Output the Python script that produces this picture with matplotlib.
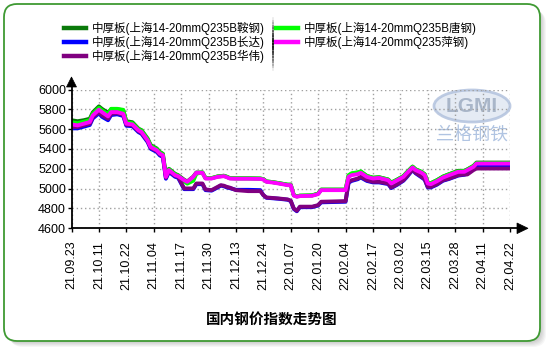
import numpy as np
import matplotlib
matplotlib.use("Agg")
import matplotlib.pyplot as plt
from matplotlib.patches import FancyBboxPatch, Ellipse, Polygon
from matplotlib.lines import Line2D
import matplotlib.transforms as mtrans

# ---------------- data ----------------
days = [0, 2, 4, 6, 7, 9, 10, 12, 13, 15,
        17, 18, 20, 22, 23, 25, 26, 28, 29, 30,
        31, 32, 34, 35, 37, 38, 40, 41, 43, 44,
        46, 48, 49, 50, 51, 52, 54, 58, 62, 63,
        64, 66, 68, 71, 72, 73, 74, 75, 79, 81,
        82, 90, 91, 92, 94, 95, 97, 99, 101, 104,
        105, 107, 109, 110, 112, 113, 115, 116, 117, 118,
        120, 122, 124, 127, 129, 130, 132, 133, 144]

angang = [5690, 5680, 5690, 5705, 5770, 5830, 5805, 5765, 5800, 5800,
          5790, 5680, 5670, 5605, 5590, 5505, 5440, 5405, 5370, 5352,
          5135, 5200, 5150, 5136, 5090, 5072, 5122, 5163, 5163, 5106,
          5106, 5123, 5126, 5130, 5120, 5106, 5104, 5104, 5102, 5096,
          5073, 5066, 5056, 5040, 5040, 4934, 4922, 4929, 4932, 4950,
          4990, 4990, 5130, 5150, 5160, 5170, 5128, 5110, 5115, 5092,
          5060, 5092, 5126, 5160, 5222, 5195, 5168, 5145, 5062, 5055,
          5085, 5122, 5146, 5180, 5180, 5195, 5230, 5263, 5263]

tanggang = [5670, 5660, 5675, 5690, 5755, 5815, 5790, 5750, 5805, 5805,
            5795, 5670, 5660, 5600, 5585, 5500, 5432, 5398, 5365, 5348,
            5130, 5196, 5146, 5132, 5075, 5050, 5080, 5150, 5165, 5106,
            5106, 5123, 5126, 5130, 5120, 5106, 5104, 5104, 5102, 5096,
            5073, 5066, 5056, 5040, 5040, 4934, 4922, 4929, 4932, 4950,
            4990, 4990, 5135, 5155, 5165, 5175, 5128, 5110, 5115, 5092,
            5060, 5092, 5126, 5160, 5222, 5195, 5168, 5145, 5062, 5055,
            5085, 5120, 5145, 5175, 5178, 5193, 5228, 5258, 5258]

changda = [5608, 5608, 5625, 5642, 5708, 5760, 5725, 5690, 5742, 5750,
           5733, 5635, 5630, 5570, 5553, 5470, 5402, 5370, 5335, 5320,
           5100, 5168, 5120, 5110, 4995, 4995, 4995, 5045, 5045, 4985,
           4980, 5012, 5030, 5025, 5012, 5005, 4988, 4988, 4985, 4935,
           4908, 4903, 4898, 4888, 4875, 4795, 4772, 4813, 4813, 4830,
           4862, 4868, 5060, 5078, 5095, 5112, 5078, 5063, 5063, 5046,
           5006, 5040, 5080, 5113, 5188, 5155, 5113, 5090, 5012, 5012,
           5040, 5080, 5098, 5132, 5140, 5150, 5200, 5228, 5228]

huawei = [5622, 5622, 5638, 5655, 5722, 5772, 5739, 5705, 5755, 5762,
          5745, 5645, 5640, 5580, 5563, 5480, 5412, 5380, 5345, 5330,
          5110, 5178, 5130, 5120, 5002, 5002, 5002, 5052, 5052, 4992,
          4985, 5018, 5035, 5030, 5018, 5010, 4985, 4975, 4975, 4935,
          4911, 4906, 4901, 4891, 4878, 4800, 4777, 4818, 4818, 4834,
          4868, 4874, 5069, 5085, 5102, 5119, 5085, 5069, 5069, 5052,
          5012, 5045, 5085, 5119, 5193, 5160, 5119, 5095, 5018, 5018,
          5045, 5085, 5102, 5136, 5143, 5143, 5187, 5203, 5203]

pinggang = [5648, 5638, 5655, 5672, 5739, 5796, 5772, 5729, 5772, 5772,
            5755, 5655, 5648, 5588, 5571, 5487, 5420, 5387, 5353, 5337,
            5119, 5187, 5136, 5126, 5085, 5069, 5119, 5160, 5160, 5102,
            5102, 5119, 5122, 5126, 5115, 5102, 5100, 5100, 5098, 5092,
            5069, 5062, 5052, 5035, 5035, 4930, 4918, 4925, 4928, 4945,
            4985, 4985, 5119, 5136, 5146, 5160, 5119, 5102, 5109, 5085,
            5052, 5085, 5119, 5153, 5213, 5187, 5160, 5136, 5052, 5045,
            5075, 5112, 5136, 5170, 5170, 5187, 5220, 5253, 5253]

tick_days = list(range(0, 145, 9))
tick_labels = ["21.09.23", "21.10.11", "21.10.22", "21.11.04", "21.11.17",
               "21.11.30", "21.12.13", "21.12.24", "22.01.07", "22.01.20",
               "22.02.04", "22.02.17", "22.03.02", "22.03.15", "22.03.28",
               "22.04.11", "22.04.22"]
y_ticks = [4600, 4800, 5000, 5200, 5400, 5600, 5800, 6000]

series_names = ["中厚板(上海14-20mmQ235B鞍钢)", "中厚板(上海14-20mmQ235B唐钢)",
                "中厚板(上海14-20mmQ235B长达)", "中厚板(上海14-20mmQ235萍钢)",
                "中厚板(上海14-20mmQ235B华伟)"]
title = "国内钢价指数走势图"

# ---------------- figure ----------------
W, H = 550, 350
fig = plt.figure(figsize=(W / 100, H / 100), dpi=100)
fig.patch.set_facecolor("white")
pix = mtrans.Affine2D().scale(1 / W, -1 / H).translate(0, 1) + fig.transFigure

FONT = ["Liberation Sans", "Noto Sans CJK SC", "DejaVu Sans"]

# frame shadow + border
for i in range(6, 0, -1):
    sh = FancyBboxPatch((4 + i, 5 + i), 536, 336,
                        boxstyle="round,pad=0,rounding_size=13",
                        transform=pix, facecolor="#000000", edgecolor="none",
                        alpha=0.035, zorder=-3)
    fig.patches.append(sh)
frame = FancyBboxPatch((4, 4), 536, 337, boxstyle="round,pad=0,rounding_size=13",
                       transform=pix, facecolor="white", edgecolor="#3f9a33",
                       linewidth=1.3, zorder=-2)
fig.patches.append(frame)

# watermark
ell = Ellipse((472, 106), 76, 32, transform=pix, facecolor="#dfe7f2",
              edgecolor="#aebfdc", linewidth=2, alpha=0.8, zorder=-1)
fig.patches.append(ell)
fig.text(472 / W, 1 - 107 / H, "LGMI", transform=fig.transFigure, ha="center",
         va="center", fontsize=15, fontweight="bold", color="#a9b6c9",
         family=FONT, zorder=-1)
fig.text(472 / W, 1 - 136 / H, "兰格钢铁", ha="center", va="center",
         fontsize=13, color="#b0c4e2", family=["Noto Sans CJK SC"],
         style="italic", zorder=-1)

# axes
x0, x1, y0, y1 = 71.5, 510.0, 89.5, 228.3
ax = fig.add_axes([x0 / W, 1 - y1 / H, (x1 - x0) / W, (y1 - y0) / H])
ax.patch.set_alpha(0)
ax.set_xlim(0, 144)
ax.set_ylim(4600, 6000)
for s in ax.spines.values():
    s.set_visible(False)
ax.set_xticks(tick_days)
ax.set_xticklabels(tick_labels, rotation=90, fontsize=9, family=FONT)
ax.set_yticks(y_ticks)
ax.set_yticklabels([str(v) for v in y_ticks], fontsize=9, family=FONT)
ax.tick_params(axis="x", length=3, width=1, pad=6, color="black")
ax.tick_params(axis="y", length=3, width=1, pad=1, color="black")
ax.grid(True, color="#a0a0a0", linestyle=(0, (1, 2)), linewidth=1)
ax.set_axisbelow(True)

colors = ["#0a7a0a", "#00ff00", "#0000ff", "#800080", "#ff00ff"]
data_order = [angang, tanggang, changda, huawei, pinggang]
for vals, c in zip(data_order, colors):
    ax.plot(days, vals, color=c, linewidth=2.8, solid_joinstyle="round",
            solid_capstyle="butt", zorder=3)

# axis lines with arrows
fig.lines.append(Line2D([x0, 518], [y1, y1], transform=pix, color="black",
                        linewidth=1.3, zorder=5))
fig.lines.append(Line2D([x0, x0], [y1, 86], transform=pix, color="black",
                        linewidth=1.3, zorder=5))
fig.patches.append(Polygon([[517, 223], [528, 228.3], [517, 233.6]], closed=True,
                           transform=pix, facecolor="black", edgecolor="black",
                           linewidth=0.5, zorder=5))
fig.patches.append(Polygon([[66.5, 87], [x0, 77], [76.5, 87]], closed=True,
                           transform=pix, facecolor="black", edgecolor="black",
                           linewidth=0.5, zorder=5))

# legend
legend_pos = [(64, 28, 0), (276, 28, 1), (64, 42, 2), (276, 42, 3), (64, 56, 4)]
for (lx, ly, idx) in legend_pos:
    fig.lines.append(Line2D([lx, lx + 22], [ly, ly], transform=pix,
                            color=colors[[0, 1, 2, 4, 3][idx]], linewidth=3.2))
    fig.text((lx + 28) / W, 1 - ly / H, series_names[idx], ha="left",
             va="center", fontsize=8.3, family=FONT, color="black")
# separator
for i in range(20):
    ya, yb = 18 + i * 2.6, 18 + (i + 1) * 2.6
    a = 1 - abs(i - 9.5) / 10.5
    fig.lines.append(Line2D([273, 273], [ya, yb], transform=pix,
                            color="black", alpha=a * 0.9, linewidth=1.2))

fig.text(272 / W, 1 - 319 / H, title, ha="center", va="center", fontsize=10.5,
         fontweight="bold", family=["Noto Sans CJK SC", "DejaVu Sans"])

fig.savefig("out.png", dpi=100)
